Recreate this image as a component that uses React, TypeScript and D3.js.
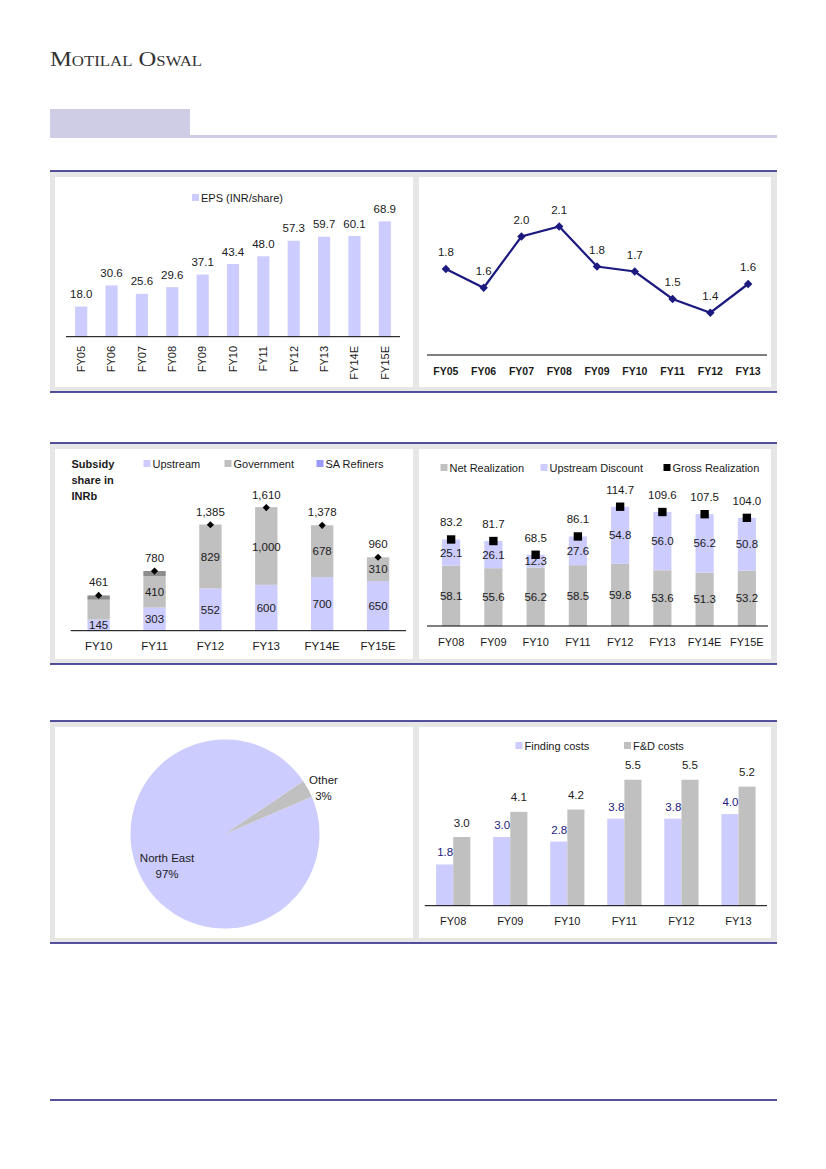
import React from 'react';
import * as d3 from 'd3';

// ---- data read off the picture ----
const epsYears = ['FY05', 'FY06', 'FY07', 'FY08', 'FY09', 'FY10', 'FY11', 'FY12', 'FY13', 'FY14E', 'FY15E'];
const epsValues = [18.0, 30.6, 25.6, 29.6, 37.1, 43.4, 48.0, 57.3, 59.7, 60.1, 68.9];

const lineYears = ['FY05', 'FY06', 'FY07', 'FY08', 'FY09', 'FY10', 'FY11', 'FY12', 'FY13'];
const lineValues = [1.76, 1.61, 2.02, 2.1, 1.78, 1.74, 1.52, 1.41, 1.64];

const subsidyYears = ['FY10', 'FY11', 'FY12', 'FY13', 'FY14E', 'FY15E'];
const upstreamShare = [145, 303, 552, 600, 700, 650];
const governmentShare = [260, 410, 829, 1000, 678, 310];
const refinerShare = [56, 67, 4, 10, 0, 0];

const realYears = ['FY08', 'FY09', 'FY10', 'FY11', 'FY12', 'FY13', 'FY14E', 'FY15E'];
const netRealization = [58.1, 55.6, 56.2, 58.5, 59.8, 53.6, 51.3, 53.2];
const upstreamDiscount = [25.1, 26.1, 12.3, 27.6, 54.8, 56.0, 56.2, 50.8];
const grossRealization = [83.2, 81.7, 68.5, 86.1, 114.7, 109.6, 107.5, 104.0];

const pieLabels = ['North East', 'Other'];
const pieValues = [97, 3];

const costYears = ['FY08', 'FY09', 'FY10', 'FY11', 'FY12', 'FY13'];
const findingCosts = [1.8, 3.0, 2.8, 3.8, 3.8, 4.0];
const fdCosts = [3.0, 4.1, 4.2, 5.5, 5.5, 5.2];

// ---- styling ----
const FONT = "'Liberation Sans', Arial, sans-serif";
const NAVY = '#1c1a7e';
const LAV = '#ccccff';
const GREY = '#c0c0c0';
const DARKGREY = '#8c8c8c';
const TXT = '#1a1a1a';
const BAND = '#cfcce6';

const sections = [
  { top: 171, bottom: 392 },
  { top: 443, bottom: 664 },
  { top: 721, bottom: 943 },
];

const Label: React.FC<{ x: number; y: number; children: React.ReactNode; anchor?: string; fill?: string; weight?: string; size?: number }> = ({ x, y, children, anchor = 'middle', fill = TXT, weight = 'normal', size = 11.5 }) => (
  <text x={x} y={y} textAnchor={anchor} fill={fill} fontWeight={weight} fontSize={size} fontFamily={FONT}>
    {children}
  </text>
);

const Swatch: React.FC<{ x: number; y: number; color: string; text: string }> = ({ x, y, color, text }) => (
  <g>
    <rect x={x} y={y - 4} width={7} height={7} fill={color} />
    <Label x={x + 9} y={y + 4} anchor="start" size={11}>{text}</Label>
  </g>
);

const diamond = d3.symbol(d3.symbolSquare, 36)();
const smallDiamond = d3.symbol(d3.symbolSquare, 26)();
const square = d3.symbol(d3.symbolSquare, 70)();

const EpsChart: React.FC = () => {
  const base = 336.7;
  const x = d3.scaleBand().domain(epsYears).range([66, 400]).paddingInner(0.6).paddingOuter(0.3);
  const y = d3.scaleLinear().domain([0, 80]).range([base, base - 134]);
  return (
    <g>
      <Swatch x={192} y={198} color={LAV} text="EPS (INR/share)" />
      {epsYears.map((k, i) => (
        <g key={k}>
          <rect x={x(k)} y={y(epsValues[i])} width={x.bandwidth()} height={base - y(epsValues[i])} fill={LAV} />
          <Label x={x(k)! + x.bandwidth() / 2} y={y(epsValues[i]) - 8.5}>{epsValues[i].toFixed(1)}</Label>
          <text
            transform={`translate(${x(k)! + x.bandwidth() / 2},346) rotate(-90)`}
            dy="0.35em"
            textAnchor="end"
            fontSize={11}
            fontFamily={FONT}
            fill={TXT}
          >
            {k}
          </text>
        </g>
      ))}
      <line x1={66} x2={400} y1={base} y2={base} stroke="#000" strokeWidth={1} />
    </g>
  );
};

const RatioLine: React.FC = () => {
  const base = 355;
  const x = d3.scalePoint().domain(lineYears).range([427, 767]).padding(0.5);
  const y = d3.scaleLinear().domain([1.0, 2.4]).range([364, 189]);
  const path = d3.line<number>().x((_, i) => x(lineYears[i])!).y((d) => y(d))(lineValues);
  return (
    <g>
      <path d={path!} fill="none" stroke={NAVY} strokeWidth={2.2} />
      {lineValues.map((v, i) => (
        <g key={lineYears[i]}>
          <path d={diamond!} transform={`translate(${x(lineYears[i])},${y(v)}) rotate(45)`} fill={NAVY} />
          <Label x={x(lineYears[i])!} y={y(v) - 13}>{v.toFixed(1)}</Label>
          <Label x={x(lineYears[i])!} y={375} weight="bold" size={10.5}>{lineYears[i]}</Label>
        </g>
      ))}
      <line x1={427} x2={767} y1={base} y2={base} stroke="#000" strokeWidth={1} />
    </g>
  );
};

const SubsidyChart: React.FC = () => {
  const base = 630.7;
  const x = d3.scaleBand().domain(subsidyYears).range([70.7, 406]).paddingInner(0.6).paddingOuter(0.3);
  const y = d3.scaleLinear().domain([0, 1800]).range([base, base - 137.7]);
  const rows = subsidyYears.map((k, i) => ({ k, up: upstreamShare[i], gov: governmentShare[i], sa: refinerShare[i] }));
  const stack = d3.stack<any>().keys(['up', 'gov', 'sa'])(rows);
  const colors: Record<string, string> = { up: LAV, gov: GREY, sa: DARKGREY };
  return (
    <g>
      <Label x={71.5} y={468} anchor="start" weight="bold" size={11}>Subsidy</Label>
      <Label x={71.5} y={484} anchor="start" weight="bold" size={11}>share in</Label>
      <Label x={71.5} y={500} anchor="start" weight="bold" size={11}>INRb</Label>
      <Swatch x={143.5} y={464} color={LAV} text="Upstream" />
      <Swatch x={224.5} y={464} color={GREY} text="Government" />
      <Swatch x={316.5} y={464} color="#9999ff" text="SA Refiners" />
      {stack.map((layer) => (
        <g key={layer.key}>
          {layer.map((d, i) => {
            const cx = x(subsidyYears[i])! + x.bandwidth() / 2;
            const v = d[1] - d[0];
            const show = layer.key === 'up' ? v > 0 : layer.key === 'gov' && v >= 300;
            return (
              <g key={subsidyYears[i]}>
                <rect x={x(subsidyYears[i])} y={y(d[1])} width={x.bandwidth()} height={y(d[0]) - y(d[1])} fill={colors[layer.key]} />
                {show ? <Label x={cx} y={(y(d[0]) + y(d[1])) / 2 + 4}>{d3.format(',')(v)}</Label> : null}
              </g>
            );
          })}
        </g>
      ))}
      {rows.map((r) => {
        const total = r.up + r.gov + r.sa;
        const cx = x(r.k)! + x.bandwidth() / 2;
        return (
          <g key={r.k}>
            <path d={smallDiamond!} transform={`translate(${cx},${y(total)}) rotate(45)`} fill="#000" />
            <Label x={cx} y={y(total) - 9}>{d3.format(',')(total)}</Label>
            <Label x={cx} y={650} size={11.5}>{r.k}</Label>
          </g>
        );
      })}
      <line x1={70.7} x2={406} y1={base} y2={base} stroke="#000" strokeWidth={1} />
    </g>
  );
};

const RealizationChart: React.FC = () => {
  const base = 626;
  const x = d3.scaleBand().domain(realYears).range([430, 768]).paddingInner(0.57).paddingOuter(0.285);
  const y = d3.scaleLinear().domain([0, 140]).range([base, base - 145.6]);
  return (
    <g>
      <Swatch x={440.5} y={468} color={GREY} text="Net Realization" />
      <Swatch x={540.5} y={468} color={LAV} text="Upstream Discount" />
      <Swatch x={663.5} y={468} color="#000" text="Gross Realization" />
      {realYears.map((k, i) => {
        const cx = x(k)! + x.bandwidth() / 2;
        const n = netRealization[i];
        const u = upstreamDiscount[i];
        const g = grossRealization[i];
        return (
          <g key={k}>
            <rect x={x(k)} y={y(n)} width={x.bandwidth()} height={base - y(n)} fill={GREY} />
            <rect x={x(k)} y={y(n + u)} width={x.bandwidth()} height={y(n) - y(n + u)} fill={LAV} />
            <Label x={cx} y={(base + y(n)) / 2 + 4}>{n.toFixed(1)}</Label>
            <Label x={cx} y={(y(n) + y(n + u)) / 2 + 4}>{u.toFixed(1)}</Label>
            <path d={square!} transform={`translate(${cx},${y(g)})`} fill="#000" />
            <Label x={cx} y={y(g) - 13}>{g.toFixed(1)}</Label>
            <Label x={cx} y={645.5} size={11}>{k}</Label>
          </g>
        );
      })}
      <line x1={427} x2={768} y1={base} y2={base} stroke="#000" strokeWidth={1} />
    </g>
  );
};

const PieChart: React.FC = () => {
  const cx = 225;
  const cy = 834;
  const r = 94.5;
  const start = (66.8 * Math.PI) / 180;
  const pie = d3.pie<number>().sort(null).startAngle(start).endAngle(start + 2 * Math.PI);
  const arcs = pie(pieValues);
  const arc = d3.arc<d3.PieArcDatum<number>>().innerRadius(0).outerRadius(r);
  const colors = [LAV, GREY];
  const labelPos = [
    [167, 858],
    [323.5, 780],
  ];
  return (
    <g transform={`translate(${cx},${cy})`}>
      {arcs.map((a, i) => (
        <path key={pieLabels[i]} d={arc(a)!} fill={colors[i]} />
      ))}
      {pieLabels.map((l, i) => (
        <g key={l}>
          <Label x={labelPos[i][0] - cx} y={labelPos[i][1] - cy + 4}>{l}</Label>
          <Label x={labelPos[i][0] - cx} y={labelPos[i][1] - cy + 20}>{`${pieValues[i]}%`}</Label>
        </g>
      ))}
    </g>
  );
};

const CostChart: React.FC = () => {
  const base = 905.7;
  const x0 = d3.scaleBand().domain(costYears).range([424.7, 767]).paddingInner(0.4).paddingOuter(0.2);
  const x1 = d3.scaleBand().domain(['finding', 'fd']).range([0, x0.bandwidth()]);
  const y = d3.scaleLinear().domain([0, 6]).range([base, base - 137.4]);
  return (
    <g>
      <Swatch x={515.5} y={746} color={LAV} text="Finding costs" />
      <Swatch x={624} y={746} color={GREY} text="F&D costs" />
      {costYears.map((k, i) => {
        const gx = x0(k)!;
        const f = findingCosts[i];
        const d = fdCosts[i];
        return (
          <g key={k}>
            <rect x={gx + x1('finding')!} y={y(f)} width={x1.bandwidth()} height={base - y(f)} fill={LAV} />
            <rect x={gx + x1('fd')!} y={y(d)} width={x1.bandwidth()} height={base - y(d)} fill={GREY} />
            <Label x={gx + x1('finding')! + x1.bandwidth() / 2 + 0.5} y={y(f) - 8} fill={NAVY}>{f.toFixed(1)}</Label>
            <Label x={gx + x1('fd')! + x1.bandwidth() / 2} y={y(d) - 10.5}>{d.toFixed(1)}</Label>
            <Label x={gx + x0.bandwidth() / 2} y={925} size={11}>{k}</Label>
          </g>
        );
      })}
      <line x1={424.7} x2={767} y1={base} y2={base} stroke="#000" strokeWidth={1} />
    </g>
  );
};

const App: React.FC = () => {
  return (
    <div style={{ position: 'absolute', left: 0, top: 0 }}>
      <svg width={826} height={1169} viewBox="0 0 826 1169" style={{ display: 'block', background: '#fff' }}>
        <text x={50} y={66} fontFamily="'Liberation Serif', 'Times New Roman', serif" fontSize={22} fill="#333" style={{ fontVariant: 'small-caps' }} textLength={152} lengthAdjust="spacingAndGlyphs">
          Motilal Oswal
        </text>
        <rect x={50} y={109} width={140} height={28} fill={BAND} />
        <rect x={50} y={135} width={727} height={3} fill={BAND} />

        {sections.map((s) => (
          <g key={s.top}>
            <rect x={50} y={s.top} width={727} height={s.bottom - s.top} fill="#e6e6e6" />
            <rect x={55} y={s.top + 6} width={358} height={s.bottom - s.top - 11} fill="#fff" />
            <rect x={419} y={s.top + 6} width={352} height={s.bottom - s.top - 11} fill="#fff" />
            <line x1={50} x2={777} y1={s.top} y2={s.top} stroke={NAVY} strokeWidth={1.3} />
            <line x1={50} x2={777} y1={s.bottom} y2={s.bottom} stroke={NAVY} strokeWidth={1.3} />
          </g>
        ))}

        <EpsChart />
        <RatioLine />
        <SubsidyChart />
        <RealizationChart />
        <PieChart />
        <CostChart />

        <line x1={50} x2={777} y1={1100} y2={1100} stroke={NAVY} strokeWidth={1.5} />
      </svg>
    </div>
  );
};

export default App;
